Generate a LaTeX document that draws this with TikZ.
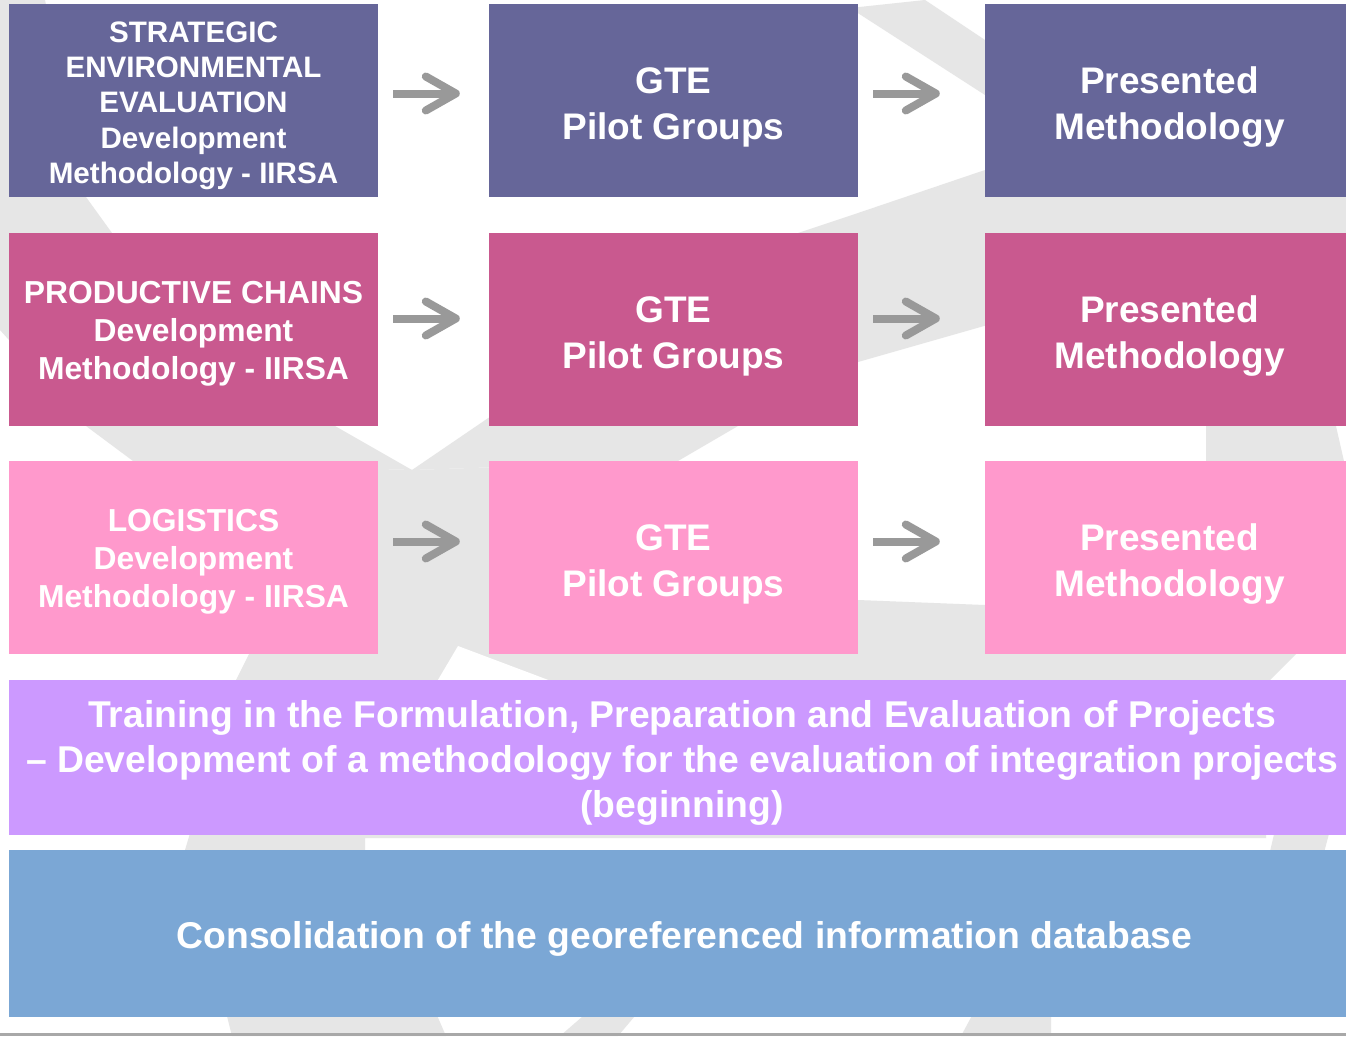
\documentclass[tikz,border=0pt]{standalone}
\usepackage{fontspec}
\setmainfont{Liberation Sans}
\usetikzlibrary{arrows.meta}
\definecolor{rowA}{HTML}{666699}
\definecolor{rowB}{HTML}{C9598F}
\definecolor{rowC}{HTML}{FF99CC}
\definecolor{trainc}{HTML}{CC99FF}
\definecolor{consc}{HTML}{7BA7D5}
\definecolor{arrowgray}{HTML}{999999}
\definecolor{wmark}{HTML}{E6E6E6}
\newcommand\vpad[1]{\rule{0pt}{#1}}
\newcommand\hpad[1]{\hspace*{#1}}
\begin{document}
\begin{tikzpicture}[x=1pt,y=-1pt,
  box/.style={rectangle, inner sep=0pt, text=white, align=center},
  colone/.style={box, minimum width=369pt, minimum height=193pt},
  coltwo/.style={box, minimum width=369pt, minimum height=193pt, font={\bfseries\fontsize{37}{46}\selectfont}},
  colthree/.style={box, minimum width=361pt, minimum height=193pt, font={\bfseries\fontsize{37}{46}\selectfont}},
  widebox/.style={box, minimum width=1337pt, font={\bfseries\fontsize{37.3}{45}\selectfont}},
  flow/.style={draw=arrowgray, line width=8pt, -{Straight Barb[length=30pt,width=34pt,round]}},
  wm/.style={fill=wmark, draw=none}
]
\useasboundingbox (0,0) rectangle (1346,1036);
\fill[white] (0,0) rectangle (1346,1036);

% watermark
\path[wm] (0,0) -- (45,0) -- (86,197) -- (112,233) -- (230,350) -- (335,426) -- (412,470) -- (133,461) -- (86,426) -- (0,330) -- cycle;
\path[wm] (412,470) -- (500,410) -- (798,233) -- (858,213) -- (985,170) -- (1346,120) -- (1346,280) -- (984,326) -- (858,362) -- (738,426) -- (678,461) -- cycle;
\path[wm] (850,8) -- (925,0) -- (985,40) -- (985,95) -- cycle;
\path[wm] (133,461) -- (412,470) -- (678,461) -- (800,570) -- (858,600) -- (985,605) -- (1206,600) -- (1206,426) -- (1210,400) -- (1330,400) -- (1346,470) -- (1346,640) -- (1296,654) -- (1270,680) -- (1266,838) -- (365,838) -- (365,850) -- (446,1036) -- (232,1036) -- (185,850) -- (236,680) -- (249,654) -- cycle;
\fill[white] (458,646) -- (432,690) -- (575,690) -- cycle;
\path[wm] (1275,830) -- (1330,830) -- (1322,860) -- (1268,860) -- cycle;
\path[wm] (560,1036) -- (618,1036) -- (640,1010) -- (590,1010) -- cycle;
\path[wm] (961,1036) -- (1051,1036) -- (1051,1010) -- (975,1010) -- cycle;

% row 1
\node[colone, fill=rowA, font={\bfseries\fontsize{29.6}{35.3}\selectfont}] (b11) at (193.5,100.5)
  {\vpad{31pt}STRATEGIC\\ENVIRONMENTAL\\EVALUATION\\Development\\Methodology - IIRSA};
\node[coltwo, fill=rowA] (b12) at (673.5,100.5) {\vpad{39pt}GTE\\Pilot Groups};
\node[colthree, fill=rowA] (b13) at (1165.5,100.5) {\vpad{39pt}\hpad{8pt}Presented\\\hpad{8pt}Methodology};
% row 2
\node[colone, fill=rowB, font={\bfseries\fontsize{31.8}{38}\selectfont}] (b21) at (193.5,329.5)
  {\vpad{31.5pt}PRODUCTIVE CHAINS\\Development\\Methodology - IIRSA};
\node[coltwo, fill=rowB] (b22) at (673.5,329.5) {\vpad{39pt}GTE\\Pilot Groups};
\node[colthree, fill=rowB] (b23) at (1165.5,329.5) {\vpad{39pt}\hpad{8pt}Presented\\\hpad{8pt}Methodology};
% row 3
\node[colone, fill=rowC, font={\bfseries\fontsize{31.8}{38}\selectfont}] (b31) at (193.5,557.5)
  {\vpad{31.5pt}LOGISTICS\\Development\\Methodology - IIRSA};
\node[coltwo, fill=rowC] (b32) at (673.5,557.5) {\vpad{39pt}GTE\\Pilot Groups};
\node[colthree, fill=rowC] (b33) at (1165.5,557.5) {\vpad{39pt}\hpad{8pt}Presented\\\hpad{8pt}Methodology};

% wide boxes
\node[widebox, fill=trainc, minimum height=155pt] (train) at (677.5,757.5)
  {\vpad{37pt}\hpad{9pt}Training in the Formulation, Preparation and Evaluation of Projects\\\hpad{9pt}– Development of a methodology for the evaluation of integration projects\\\hpad{9pt}(beginning)};
\node[widebox, fill=consc, minimum height=167pt] (cons) at (677.5,933.5)
  {\vpad{37pt}\hpad{14pt}Consolidation of the georeferenced information database};

% arrows
\draw[flow, shorten <=15pt, shorten >=29pt] ([yshift=7pt]b11.east) -- ([yshift=7pt]b12.west);
\draw[flow, shorten <=15pt, shorten >=45pt] ([yshift=7pt]b12.east) -- ([yshift=7pt]b13.west);
\draw[flow, shorten <=15pt, shorten >=29pt] ([yshift=11pt]b21.east) -- ([yshift=11pt]b22.west);
\draw[flow, shorten <=15pt, shorten >=45pt] ([yshift=11pt]b22.east) -- ([yshift=11pt]b23.west);
\draw[flow, shorten <=15pt, shorten >=29pt] ([yshift=16pt]b31.east) -- ([yshift=16pt]b32.west);
\draw[flow, shorten <=15pt, shorten >=45pt] ([yshift=16pt]b32.east) -- ([yshift=16pt]b33.west);

% bottom rule
\fill[arrowgray!85] (0,1033) rectangle (1346,1036);
\end{tikzpicture}
\end{document}
